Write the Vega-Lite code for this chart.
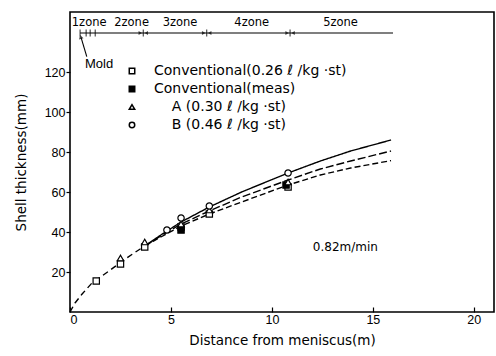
{
  "$schema": "https://vega.github.io/schema/vega-lite/v6.json",
  "width": 424,
  "height": 300,
  "autosize": {"type": "none"},
  "padding": {"left": 70, "top": 12, "right": 2, "bottom": 44},
  "config": {
    "font": "Liberation Sans",
    "view": {"stroke": "black", "strokeWidth": 1.6},
    "axis": {"domain": false, "grid": false, "labelFont": "Liberation Sans", "labelFontSize": 12.5, "labelColor": "black", "titleFont": "DejaVu Sans", "titleFontSize": 13.5, "titleFontWeight": "normal", "titleColor": "black", "tickColor": "black", "tickWidth": 1.2}
  },
  "datasets": {
    "curves": [
      {"curve": "common", "x": 0, "y": 0}, {"curve": "common", "x": 0.25, "y": 4.5}, {"curve": "common", "x": 0.6, "y": 9}, {"curve": "common", "x": 1.07, "y": 14.3}, {"curve": "common", "x": 1.3, "y": 16}, {"curve": "common", "x": 2, "y": 21}, {"curve": "common", "x": 2.5, "y": 24.8}, {"curve": "common", "x": 3.1, "y": 29}, {"curve": "common", "x": 3.7, "y": 33},
      {"curve": "B", "x": 3.7, "y": 33}, {"curve": "B", "x": 4.5, "y": 38.5}, {"curve": "B", "x": 5.5, "y": 45}, {"curve": "B", "x": 6.9, "y": 52.5}, {"curve": "B", "x": 8.5, "y": 60}, {"curve": "B", "x": 10.8, "y": 69.5}, {"curve": "B", "x": 12.4, "y": 75.5}, {"curve": "B", "x": 13.9, "y": 80.5}, {"curve": "B", "x": 15.9, "y": 86},
      {"curve": "A", "x": 3.7, "y": 33}, {"curve": "A", "x": 4.5, "y": 38}, {"curve": "A", "x": 5.5, "y": 44}, {"curve": "A", "x": 6.9, "y": 50.5}, {"curve": "A", "x": 8.5, "y": 57.5}, {"curve": "A", "x": 10.8, "y": 66}, {"curve": "A", "x": 12.4, "y": 71.5}, {"curve": "A", "x": 13.9, "y": 75.5}, {"curve": "A", "x": 15.9, "y": 80.5},
      {"curve": "Conventional", "x": 3.7, "y": 33}, {"curve": "Conventional", "x": 4.5, "y": 37.5}, {"curve": "Conventional", "x": 5.5, "y": 43}, {"curve": "Conventional", "x": 6.9, "y": 49}, {"curve": "Conventional", "x": 8.5, "y": 55}, {"curve": "Conventional", "x": 10.8, "y": 63.5}, {"curve": "Conventional", "x": 12.4, "y": 68.5}, {"curve": "Conventional", "x": 13.9, "y": 72}, {"curve": "Conventional", "x": 15.9, "y": 75.7}
    ],
    "points": [
      {"series": "Conventional(0.26 ℓ /kg ·st)", "x": 1.3, "y": 15.5},
      {"series": "Conventional(0.26 ℓ /kg ·st)", "x": 2.5, "y": 24},
      {"series": "Conventional(0.26 ℓ /kg ·st)", "x": 3.7, "y": 32.5},
      {"series": "Conventional(0.26 ℓ /kg ·st)", "x": 5.5, "y": 42.5},
      {"series": "Conventional(0.26 ℓ /kg ·st)", "x": 6.9, "y": 49},
      {"series": "Conventional(0.26 ℓ /kg ·st)", "x": 10.8, "y": 62.5},
      {"series": "Conventional(meas)", "x": 5.5, "y": 41},
      {"series": "Conventional(meas)", "x": 10.7, "y": 63.5},
      {"series": "\u200b\u00a0\u00a0\u00a0\u00a0A (0.30 ℓ /kg ·st)", "x": 2.5, "y": 27},
      {"series": "\u200b\u00a0\u00a0\u00a0\u00a0A (0.30 ℓ /kg ·st)", "x": 3.7, "y": 35},
      {"series": "\u200b\u00a0\u00a0\u00a0\u00a0A (0.30 ℓ /kg ·st)", "x": 5.5, "y": 44},
      {"series": "\u200b\u00a0\u00a0\u00a0\u00a0A (0.30 ℓ /kg ·st)", "x": 6.9, "y": 51},
      {"series": "\u200b\u00a0\u00a0\u00a0\u00a0A (0.30 ℓ /kg ·st)", "x": 10.8, "y": 65},
      {"series": "\u200b\u00a0\u00a0\u00a0\u00a0B (0.46 ℓ /kg ·st)", "x": 4.8, "y": 41},
      {"series": "\u200b\u00a0\u00a0\u00a0\u00a0B (0.46 ℓ /kg ·st)", "x": 5.5, "y": 47},
      {"series": "\u200b\u00a0\u00a0\u00a0\u00a0B (0.46 ℓ /kg ·st)", "x": 6.9, "y": 53},
      {"series": "\u200b\u00a0\u00a0\u00a0\u00a0B (0.46 ℓ /kg ·st)", "x": 10.8, "y": 69.5}
    ],
    "zonelabels": [
      {"label": "1zone", "x": 0.95, "y": 144.5},
      {"label": "2zone", "x": 3.05, "y": 144.5},
      {"label": "3zone", "x": 5.45, "y": 144.5},
      {"label": "4zone", "x": 9.0, "y": 144.5},
      {"label": "5zone", "x": 13.4, "y": 144.5}
    ],
    "bounds": [
      {"x": 0.5, "y": 139.5}, {"x": 0.8, "y": 139.5}, {"x": 1.0, "y": 139.5}, {"x": 1.25, "y": 139.5},
      {"x": 3.63, "y": 139.5}, {"x": 6.77, "y": 139.5}, {"x": 10.9, "y": 139.5}
    ],
    "mainbounds": [
      {"x": 3.63, "y": 139.5}, {"x": 6.77, "y": 139.5}, {"x": 10.9, "y": 139.5}
    ]
  },
  "encoding": {
    "x": {"field": "x", "type": "quantitative", "scale": {"domain": [0, 21], "nice": false, "zero": false},
      "axis": {"values": [0, 5, 10, 15, 20], "tickSize": -5, "labelPadding": 6, "title": "Distance from meniscus(m)", "titlePadding": 8}},
    "y": {"field": "y", "type": "quantitative", "scale": {"domain": [0, 150], "nice": false, "zero": false},
      "axis": {"values": [20, 40, 60, 80, 100, 120], "tickSize": 4, "labelPadding": 1, "title": "Shell thickness(mm)", "titlePadding": 16}}
  },
  "layer": [
    {
      "data": {"name": "curves"},
      "mark": {"type": "line", "color": "black", "strokeWidth": 1.4},
      "encoding": {
        "detail": {"field": "curve"},
        "strokeDash": {"field": "curve", "type": "nominal", "legend": null,
          "scale": {"domain": ["common", "B", "A", "Conventional"], "range": [[6, 4], [1, 0], [8, 3], [6, 3]]}}
      }
    },
    {
      "data": {"name": "points"},
      "mark": {"type": "point", "filled": false, "stroke": "black", "strokeWidth": 1.2, "size": 40, "opacity": 1},
      "encoding": {
        "shape": {"field": "series", "type": "nominal",
          "scale": {"domain": ["Conventional(0.26 ℓ /kg ·st)", "Conventional(meas)", "\u200b\u00a0\u00a0\u00a0\u00a0A (0.30 ℓ /kg ·st)", "\u200b\u00a0\u00a0\u00a0\u00a0B (0.46 ℓ /kg ·st)"], "range": ["square", "square", "triangle-up", "circle"]},
          "legend": {"title": null, "orient": "none", "legendX": 55, "legendY": 52, "padding": 0, "labelFontSize": 14, "labelFont": "DejaVu Sans", "labelColor": "black", "labelOffset": 15, "labelLimit": 0, "rowPadding": 4, "symbolSize": 30,
            "encode": {"symbols": {"update": {"stroke": {"value": "black"}, "strokeWidth": {"value": 1.2}}}}}},
        "fill": {"field": "series", "type": "nominal",
          "scale": {"domain": ["Conventional(0.26 ℓ /kg ·st)", "Conventional(meas)", "\u200b\u00a0\u00a0\u00a0\u00a0A (0.30 ℓ /kg ·st)", "\u200b\u00a0\u00a0\u00a0\u00a0B (0.46 ℓ /kg ·st)"], "range": ["white", "black", "white", "white"]}}
      }
    },
    {
      "data": {"values": [{"x": 0.5, "x2": 16.0, "y": 139.5}]},
      "mark": {"type": "rule", "color": "black", "strokeWidth": 1.2},
      "encoding": {"x2": {"field": "x2"}}
    },
    {
      "data": {"name": "bounds"},
      "mark": {"type": "tick", "orient": "vertical", "color": "black", "size": 7, "thickness": 1.2}
    },
    {
      "data": {"name": "mainbounds"},
      "mark": {"type": "point", "shape": "triangle-right", "filled": true, "color": "black", "size": 16, "xOffset": -3}
    },
    {
      "data": {"name": "mainbounds"},
      "mark": {"type": "point", "shape": "triangle-left", "filled": true, "color": "black", "size": 16, "xOffset": 3}
    },
    {
      "data": {"name": "zonelabels"},
      "mark": {"type": "text", "fontSize": 11.5, "color": "black", "font": "DejaVu Sans"},
      "encoding": {"text": {"field": "label"}}
    },
    {
      "data": {"values": [{"x": 0.83, "y": 127.7, "x2": 0.55, "y2": 137.2}]},
      "mark": {"type": "rule", "color": "black", "strokeWidth": 1.1},
      "encoding": {"x2": {"field": "x2"}, "y2": {"field": "y2"}}
    },
    {
      "data": {"values": [{"x": 0.53, "y": 137.5}]},
      "mark": {"type": "point", "shape": "triangle-up", "filled": true, "color": "black", "size": 22, "angle": -16}
    },
    {
      "data": {"values": [{"label": "Mold", "x": 1.44, "y": 124}]},
      "mark": {"type": "text", "fontSize": 13, "color": "black", "font": "Liberation Sans"},
      "encoding": {"text": {"field": "label"}}
    },
    {
      "data": {"values": [{"label": "0.82m/min", "x": 13.64, "y": 32.7}]},
      "mark": {"type": "text", "fontSize": 12, "color": "black", "font": "DejaVu Sans"},
      "encoding": {"text": {"field": "label"}}
    }
  ]
}
